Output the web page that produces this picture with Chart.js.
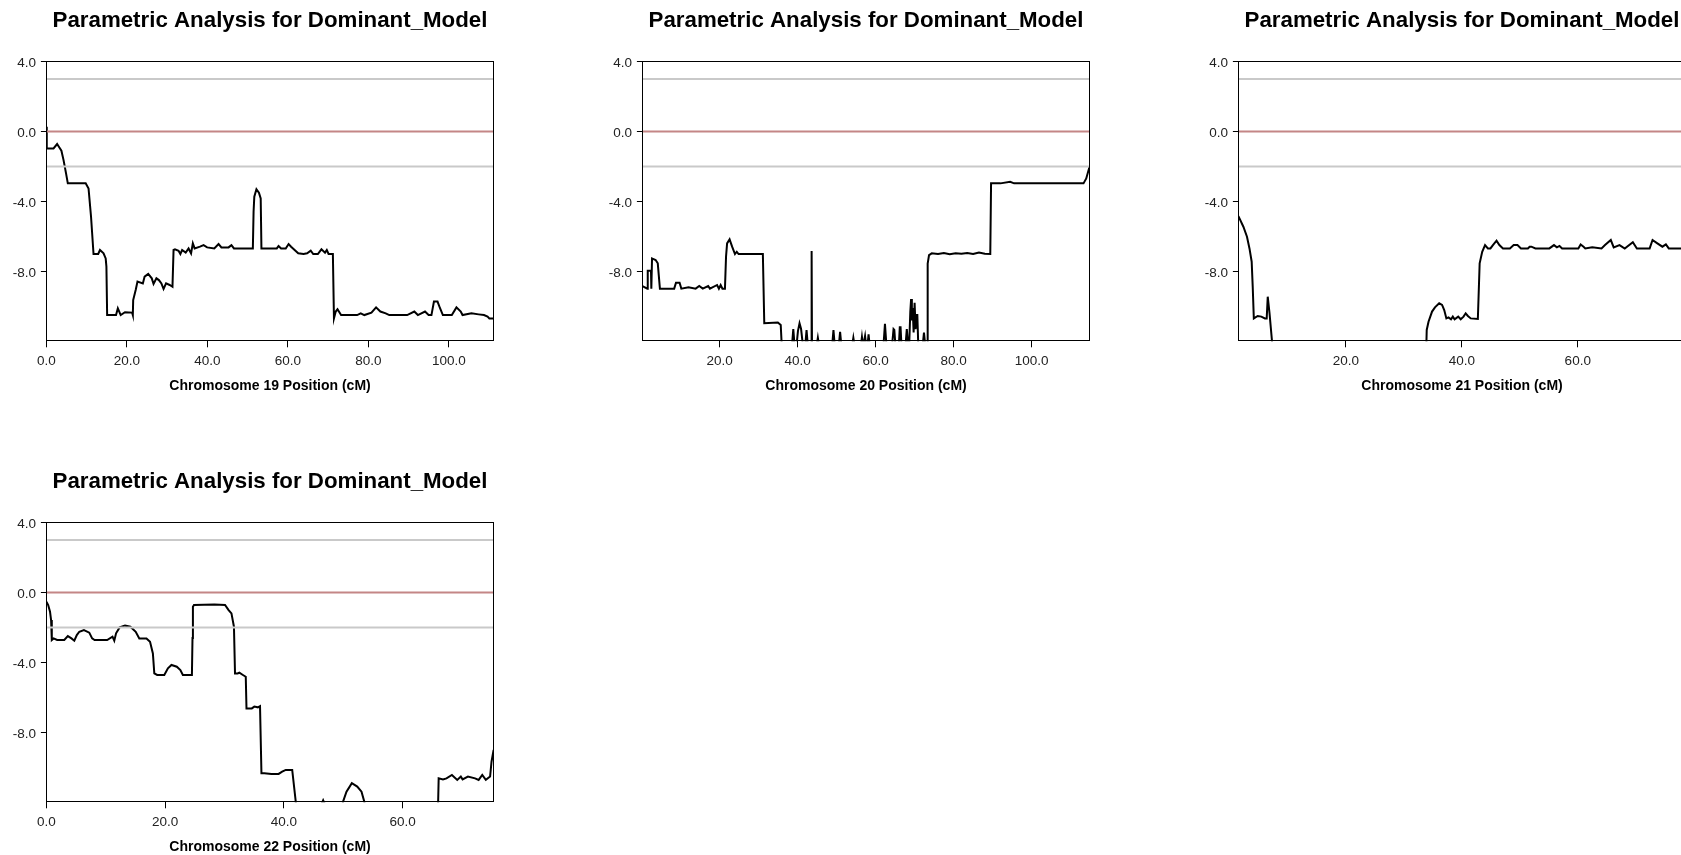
<!DOCTYPE html>
<html>
<head>
<meta charset="utf-8">
<script src="https://cdn.jsdelivr.net/npm/chart.js@4.4.1/dist/chart.umd.min.js"></script>
<style>
  html, body { margin: 0; padding: 0; background: #fff; }
  #wrap { position: relative; width: 1681px; height: 855px; overflow: hidden; background: #fff; }
  canvas { position: absolute; }
</style>
</head>
<body>
<div id="wrap">
  <canvas id="c19" width="596" height="460" style="left:0px;top:0px;width:596px;height:460px"></canvas>
  <canvas id="c20" width="596" height="460" style="left:596px;top:0px;width:596px;height:460px"></canvas>
  <canvas id="c21" width="596" height="460" style="left:1192px;top:0px;width:596px;height:460px"></canvas>
  <canvas id="c22" width="596" height="460" style="left:0px;top:460.7px;width:596px;height:460px"></canvas>
</div>
<script>
// ---------------- DATA ----------------
const chartTitle = "Parametric Analysis for Dominant_Model";
const yTickValues = [-8, -4, 0, 4];
const yMin = -12, yMax = 4;
const upperThreshold = 3;
const baselineLevel = 0;
const lowerThreshold = -2;

// Chromosome 19
const chr19Label = "Chromosome 19 Position (cM)";
const chr19Ticks = [0, 20, 40, 60, 80, 100];
const chr19Pos = [0,0.09,1.77,2.66,3.1,3.73,4.26,4.88,5.32,9.76,10.47,11.09,11.71,12.87,13.31,14.2,14.73,14.91,15.09,17.3,17.75,18.46,19.52,21.3,21.47,21.56,22.18,22.63,23.96,24.4,25.29,26.18,26.62,27.33,27.95,28.57,29.11,29.73,30.62,31.32,31.59,31.95,32.83,33.28,33.72,34.61,35.32,35.94,36.38,36.83,38.16,39.05,39.93,41.71,42.77,43.48,45.26,45.97,46.59,51.29,51.47,51.65,52.18,52.8,53.24,53.42,57.24,57.68,58.3,59.46,60.17,60.79,61.67,62.56,63.89,64.78,65.67,66.29,67.44,68.33,69.22,69.66,70.1,71.17,71.44,71.88,72.32,73.21,77.2,78.09,78.98,80.75,81.9,82.97,84.3,85.19,89.63,91.4,92.29,94.06,94.95,95.66,96.28,97.17,97.79,98.5,100.72,101.87,102.94,103.38,105.6,107.38,108.71,109.6,110.04,111.1];
const chr19Lod = [0.27,-0.97,-0.97,-0.72,-0.88,-1.1,-1.64,-2.4,-2.97,-2.97,-3.26,-4.88,-7.01,-7.01,-6.78,-6.97,-7.26,-7.73,-10.5,-10.5,-10.11,-10.5,-10.34,-10.36,-10.5,-9.64,-9.07,-8.59,-8.69,-8.3,-8.15,-8.4,-8.72,-8.4,-8.5,-8.69,-9.01,-8.69,-8.78,-8.88,-6.78,-6.74,-6.82,-7.01,-6.78,-6.93,-6.69,-6.97,-6.4,-6.69,-6.59,-6.5,-6.63,-6.69,-6.44,-6.63,-6.63,-6.5,-6.69,-6.69,-4.59,-3.73,-3.31,-3.5,-3.83,-6.69,-6.69,-6.55,-6.69,-6.69,-6.44,-6.59,-6.78,-6.97,-7.01,-6.97,-6.82,-7.01,-7.01,-6.74,-6.93,-6.78,-7.01,-7.01,-10.69,-10.3,-10.17,-10.5,-10.5,-10.4,-10.5,-10.36,-10.06,-10.3,-10.4,-10.5,-10.5,-10.3,-10.5,-10.3,-10.5,-10.5,-9.73,-9.73,-10.11,-10.5,-10.5,-10.06,-10.3,-10.5,-10.4,-10.46,-10.5,-10.59,-10.69,-10.69];

// Chromosome 20
const chr20Label = "Chromosome 20 Position (cM)";
const chr20Ticks = [20, 40, 60, 80, 100];
const chr20Pos = [
  0.22,1.5,1.59,2.42,2.51,2.69,3.61,4.16,4.71,8.37,8.83,9.75,10.2,12.04,13.87,14.79,15.7,17.08,17.53,19.37,19.83,20.28,20.74,21.38,21.66,21.93,22.57,23.22,23.95,24.41,24.87,31.1,31.46,34.94,35.68,36.04,
  38.55,38.9,39.25,
  39.7,40.1,40.5,40.9,41.4,
  41.95,42.3,42.65,
  43.5,43.6,43.7,
  44.85,45.2,45.55,
  48.85,49.2,49.55,
  50.55,50.9,51.25,
  53.95,54.3,54.65,
  56.2,56.5,56.8,
  57.0,57.3,57.6,
  57.9,58.2,58.5,
  62.0,62.4,62.8,
  64.2,64.6,64.8,65.1,
  65.95,66.2,66.4,66.65,
  67.65,68.0,68.35,
  68.6,68.9,69.1,69.3,69.5,69.75,70.0,70.25,70.5,70.7,70.95,
  72.05,72.4,72.75,
  73.3,73.35,73.7,74.4,
  76.0,77.5,79.0,80.5,82.0,83.5,85.0,86.5,88.0,89.4,
  89.6,92.0,94.5,95.5,98.0,103.0,108.0,113.3,114.0,114.86];
const chr20Lod = [
  -8.84,-8.99,-7.96,-7.96,-8.99,-7.26,-7.35,-7.54,-8.99,-8.99,-8.65,-8.65,-8.99,-8.91,-8.99,-8.84,-8.99,-8.84,-8.99,-8.78,-8.99,-8.78,-8.99,-8.99,-7.16,-6.4,-6.17,-6.59,-7.01,-6.88,-7.01,-7.01,-10.97,-10.93,-11.07,-12.69,
  -12.3,-11.3,-12.3,
  -12.3,-11.4,-10.97,-11.3,-12.3,
  -12.3,-11.36,-12.3,
  -12.6,-6.84,-12.6,
  -12.3,-11.8,-12.3,
  -12.3,-11.36,-12.3,
  -12.3,-11.46,-12.3,
  -12.3,-11.8,-12.3,
  -12.3,-11.75,-12.3,
  -12.3,-11.7,-12.3,
  -12.3,-11.6,-12.3,
  -12.3,-11.0,-12.3,
  -12.3,-11.3,-11.35,-12.3,
  -12.3,-11.2,-11.2,-12.3,
  -12.3,-11.3,-12.3,
  -12.3,-10.3,-9.58,-10.8,-10.1,-11.5,-9.8,-11.3,-10.5,-10.5,-12.3,
  -12.3,-11.5,-12.3,
  -12.7,-7.55,-7.07,-6.97,
  -7.01,-6.95,-7.02,-6.97,-7.0,-6.95,-7.01,-6.93,-7.0,-7.01,
  -2.97,-2.97,-2.88,-2.97,-2.97,-2.97,-2.97,-2.97,-2.69,-2.0];

// Chromosome 21
const chr21Label = "Chromosome 21 Position (cM)";
const chr21Ticks = [20, 40, 60];
const chr21Pos = [1.47,2.33,2.95,3.38,3.76,3.94,4.13,4.8,5.42,6.04,6.35,6.53,6.84,7.27,7.58,33.8,33.95,34.26,34.87,35.37,36.1,36.6,36.97,37.34,37.71,38.14,38.45,38.76,39.38,39.81,40.3,40.67,41.05,41.54,42.77,43.08,43.52,44.01,44.5,44.94,45.37,45.99,46.48,47.1,48.3,48.95,49.6,50.2,51.4,51.7,52.0,52.7,55.1,55.9,56.4,56.85,57.3,60.1,60.5,61.0,61.3,62.5,64.1,64.7,65.7,66.2,67.2,67.8,68.1,69.5,70.2,72.4,72.9,73.6,74.6,75.2,75.7,76.7,77.8,78.6];
const chr21Lod = [-4.84,-5.45,-6.02,-6.69,-7.45,-8.88,-10.69,-10.55,-10.59,-10.69,-10.69,-9.45,-10.4,-12.0,-13.4,-13.4,-11.35,-10.88,-10.3,-10.06,-9.83,-9.92,-10.21,-10.69,-10.63,-10.74,-10.59,-10.74,-10.59,-10.74,-10.59,-10.4,-10.55,-10.69,-10.72,-7.54,-6.88,-6.5,-6.69,-6.69,-6.5,-6.25,-6.5,-6.69,-6.69,-6.5,-6.5,-6.69,-6.69,-6.59,-6.59,-6.69,-6.69,-6.5,-6.63,-6.55,-6.69,-6.69,-6.46,-6.59,-6.69,-6.63,-6.69,-6.5,-6.21,-6.63,-6.5,-6.63,-6.69,-6.34,-6.69,-6.69,-6.21,-6.37,-6.59,-6.46,-6.69,-6.69,-6.69,-6.69];

// Chromosome 22
const chr22Label = "Chromosome 22 Position (cM)";
const chr22Ticks = [0, 20, 40, 60];
const chr22Pos = [0,0.3,0.61,0.79,0.91,1.21,1.81,3.01,3.61,4.22,4.7,5.12,5.54,6.32,7.22,7.7,8.12,10.23,11.13,11.43,11.73,12.33,13.24,14.14,15.04,15.64,16.85,17.45,17.93,18.17,18.65,19.85,20.46,21.06,21.96,22.56,22.98,24.5,24.6,24.67,24.85,28.28,30.08,30.68,31.16,31.58,31.76,32.18,32.49,33.09,33.57,33.69,34.59,35.01,35.61,35.97,36.21,36.7,37.9,39.1,39.7,40.3,41.39,41.99,42.23,46.2,46.6,47.0,49.7,49.93,50.53,51.43,52.34,53.06,53.54,53.8,65.87,66.05,66.77,67.37,68.28,69.18,69.78,70.08,70.98,72.18,72.78,73.39,73.99,74.71,74.95,75.3];
const chr22Lod = [-0.53,-0.72,-1.1,-1.58,-2.72,-2.63,-2.72,-2.72,-2.5,-2.63,-2.76,-2.44,-2.25,-2.15,-2.3,-2.63,-2.72,-2.72,-2.53,-2.76,-2.34,-2.0,-1.9,-1.96,-2.25,-2.63,-2.63,-2.82,-3.49,-4.63,-4.72,-4.72,-4.34,-4.15,-4.25,-4.44,-4.72,-4.72,-2.6,-0.82,-0.72,-0.69,-0.72,-1.01,-1.2,-1.96,-4.63,-4.63,-4.59,-4.72,-4.82,-6.63,-6.63,-6.53,-6.57,-6.5,-10.34,-10.34,-10.38,-10.38,-10.25,-10.15,-10.15,-11.98,-13.4,-12.2,-11.88,-12.2,-13.4,-11.98,-11.39,-10.91,-11.1,-11.39,-11.98,-13.4,-13.4,-10.63,-10.69,-10.63,-10.44,-10.72,-10.53,-10.69,-10.53,-10.63,-10.72,-10.44,-10.72,-10.53,-9.68,-9.01];

// ---------------- STYLE / BUILD ----------------
Chart.defaults.font.family = '"Liberation Sans", Arial, Helvetica, sans-serif';
Chart.defaults.devicePixelRatio = 1;

const framePlugin = {
  id: 'frame',
  afterDraw(chart) {
    const a = chart.chartArea, ctx = chart.ctx;
    ctx.save();
    ctx.strokeStyle = '#000';
    ctx.lineWidth = 1;
    const l = Math.round(a.left) + 0.5, t = Math.round(a.top) + 0.5;
    const r = Math.round(a.right) - 0.5, b = Math.round(a.bottom) - 0.5;
    ctx.strokeRect(l, t, r - l, b - t);
    ctx.restore();
  }
};

function refLine(level, xmin, xmax, color) {
  return {
    data: [{x: xmin, y: level}, {x: xmax, y: level}],
    borderColor: color, borderWidth: 2, pointRadius: 0, clip: 0
  };
}

function makePanel(id, pos, lod, ticks, label) {
  const xmin = pos[0], xmax = pos[pos.length - 1];
  const pts = pos.map((p, i) => ({x: p, y: lod[i]}));
  new Chart(document.getElementById(id), {
    type: 'line',
    data: {
      datasets: [
        refLine(upperThreshold, xmin, xmax, '#c9c9c9'),
        refLine(lowerThreshold, xmin, xmax, '#c9c9c9'),
        refLine(baselineLevel, xmin, xmax, '#c48686'),
        {data: pts, borderColor: '#000', borderWidth: 2, pointRadius: 0, tension: 0, clip: 0, borderJoinStyle: 'miter'}
      ]
    },
    options: {
      responsive: false,
      animation: false,
      events: [],
      layout: {padding: {left: 0, right: 102.4, top: 0, bottom: 65.1}},
      plugins: {
        legend: {display: false},
        tooltip: {enabled: false},
        title: {
          display: true, text: chartTitle, fullSize: false, color: '#000',
          font: {size: 22.3, weight: 'bold'},
          padding: {top: 7.0, bottom: 27.7}
        }
      },
      scales: {
        x: {
          type: 'linear', min: xmin, max: xmax,
          afterBuildTicks: s => { s.ticks = ticks.map(v => ({value: v})); },
          afterFit: s => { s.height = 53.6; },
          ticks: {callback: v => Number(v).toFixed(1), color: '#222', font: {size: 13.5}, padding: 6, maxRotation: 0, autoSkip: false},
          grid: {drawOnChartArea: false, drawTicks: true, tickLength: 6, color: '#000', lineWidth: 1},
          border: {display: false},
          title: {display: true, text: label, color: '#000', font: {size: 14, weight: 'bold'}, padding: {top: 0, bottom: 0}}
        },
        y: {
          type: 'linear', min: yMin, max: yMax,
          afterBuildTicks: s => { s.ticks = yTickValues.map(v => ({value: v})); },
          afterFit: s => { s.width = 46.4; },
          ticks: {callback: v => Number(v).toFixed(1), color: '#222', font: {size: 13.5}, padding: 5, labelOffset: 1.5},
          grid: {drawOnChartArea: false, drawTicks: true, tickLength: 5.5, color: '#000', lineWidth: 1},
          border: {display: false}
        }
      }
    },
    plugins: [framePlugin]
  });
}

makePanel('c19', chr19Pos, chr19Lod, chr19Ticks, chr19Label);
makePanel('c20', chr20Pos, chr20Lod, chr20Ticks, chr20Label);
makePanel('c21', chr21Pos, chr21Lod, chr21Ticks, chr21Label);
makePanel('c22', chr22Pos, chr22Lod, chr22Ticks, chr22Label);
</script>
</body>
</html>
